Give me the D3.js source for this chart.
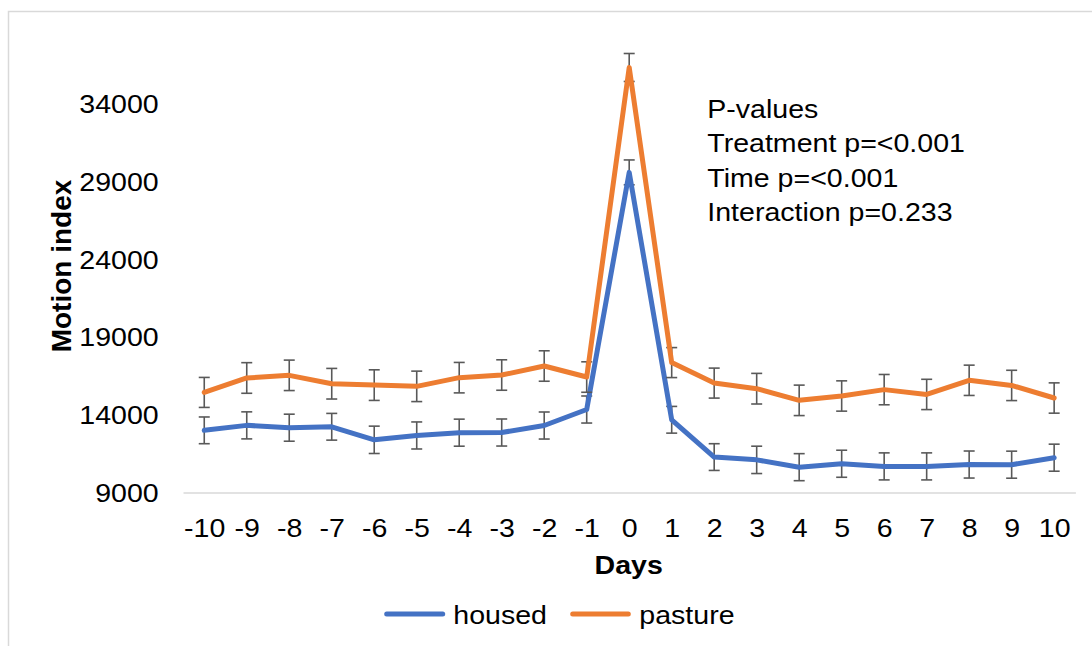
<!DOCTYPE html>
<html>
<head>
<meta charset="utf-8">
<script src="https://cdn.jsdelivr.net/npm/d3@7"></script>
<style>
  body { margin: 0; background: #fff; }
  svg { display: block; }
  text { font-family: "Liberation Sans", Arial, sans-serif; fill: #000; }
</style>
</head>
<body>
<svg id="chart" width="1092" height="646"></svg>
<script>
// Daily motion index around the event day (day 0), mean ± SE
const days = [-10, -9, -8, -7, -6, -5, -4, -3, -2, -1, 0, 1, 2, 3, 4, 5, 6, 7, 8, 9, 10];
const housed = [13000, 13320, 13170, 13230, 12390, 12670, 12850, 12860, 13310, 14340, 29600,
                13680, 11280, 11100, 10630, 10850, 10680, 10680, 10800, 10790, 11240];
const housedErr = [860, 870, 870, 860, 880, 870, 870, 870, 870, 870, 800,
                   860, 860, 880, 870, 870, 870, 870, 870, 870, 870];
const pasture = [15440, 16370, 16540, 16000, 15910, 15830, 16390, 16560, 17140, 16430, 36350,
                 17360, 16040, 15680, 14930, 15210, 15620, 15310, 16220, 15890, 15080];
const pastureErr = [965, 985, 980, 985, 985, 980, 980, 980, 980, 980, 900,
                    965, 965, 985, 980, 975, 975, 975, 975, 975, 975];
const seriesNames = ["housed", "pasture"];
const seriesColors = ["#4472C4", "#ED7D31"];
const yTicks = [9000, 14000, 19000, 24000, 29000, 34000];
const annotationLines = ["P-values", "Treatment p=<0.001", "Time p=<0.001", "Interaction p=0.233"];

const series = [
  { name: seriesNames[0], color: seriesColors[0], values: housed, err: housedErr },
  { name: seriesNames[1], color: seriesColors[1], values: pasture, err: pastureErr }
];

const svg = d3.select("#chart");
const SX = 1.12;            // horizontal text stretch
const FS = 25.5;            // base font size

// chart area frame
svg.append("rect")
  .attr("x", 8.5).attr("y", 11.5).attr("width", 1100).attr("height", 700)
  .attr("fill", "#fff").attr("stroke", "#d9d9d9").attr("stroke-width", 1.5);

const plot = { left: 183, right: 1075.4, top: 26.3, bottom: 492.5 };

const x = d3.scalePoint().domain(days).range([plot.left, plot.right]).padding(0.5);
const y = d3.scaleLinear().domain([9000, 39000]).range([plot.bottom, plot.top]);

// y axis (labels only)
const yAxis = svg.append("g")
  .attr("transform", `translate(${plot.left},0)`)
  .call(d3.axisLeft(y).tickValues(yTicks).tickSize(0).tickFormat(d3.format("d")));
yAxis.select(".domain").remove();
yAxis.selectAll("text")
  .attr("x", 0).attr("dy", "0.34em")
  .attr("transform", `translate(-24.3,0) scale(${SX},1)`)
  .attr("font-size", FS).attr("font-family", null).attr("fill", "#000");

// x axis with baseline
const xAxis = svg.append("g")
  .attr("transform", `translate(0,${plot.bottom})`)
  .call(d3.axisBottom(x).tickSize(0).tickSizeOuter(0));
xAxis.select(".domain").attr("stroke", "#d9d9d9").attr("stroke-width", 1.5);
xAxis.selectAll("text")
  .attr("y", 0).attr("dy", 0)
  .attr("transform", `translate(0,44) scale(${SX},1)`)
  .attr("font-size", FS).attr("font-family", null).attr("fill", "#000");

// error bars then lines for each series
const line = d3.line().x((d, i) => x(days[i])).y(d => y(d));
series.forEach(s => {
  const eb = svg.append("g").attr("stroke", "#595959").attr("stroke-width", 1.6).attr("fill", "none");
  s.values.forEach((v, i) => {
    const cx = x(days[i]);
    const y1 = y(v + s.err[i]), y2 = y(v - s.err[i]);
    eb.append("line").attr("x1", cx).attr("x2", cx).attr("y1", y1).attr("y2", y2);
    eb.append("line").attr("x1", cx - 5.5).attr("x2", cx + 5.5).attr("y1", y1).attr("y2", y1);
    eb.append("line").attr("x1", cx - 5.5).attr("x2", cx + 5.5).attr("y1", y2).attr("y2", y2);
  });
  svg.append("path")
    .datum(s.values)
    .attr("d", line)
    .attr("fill", "none")
    .attr("stroke", s.color)
    .attr("stroke-width", 5)
    .attr("stroke-linejoin", "round")
    .attr("stroke-linecap", "round");
});

// statistics annotation
const ann = svg.append("g");
annotationLines.forEach((t, i) => {
  ann.append("text")
    .attr("transform", `translate(707.3,${118.3 + i * 34.1}) scale(${SX},1)`)
    .attr("font-size", FS)
    .text(t);
});

// axis titles
svg.append("text")
  .attr("transform", "translate(71,266) rotate(-90)")
  .attr("text-anchor", "middle")
  .attr("font-size", 28)
  .attr("font-weight", "bold")
  .text("Motion index");

svg.append("text")
  .attr("transform", `translate(628.7,574.3) scale(${SX},1)`)
  .attr("text-anchor", "middle")
  .attr("font-size", FS)
  .attr("font-weight", "bold")
  .text("Days");

// legend
const legendPos = [{ x1: 386.7, x2: 442.7, tx: 453.3 }, { x1: 572.7, x2: 628.3, tx: 639.3 }];
series.forEach((s, i) => {
  const p = legendPos[i];
  svg.append("line")
    .attr("x1", p.x1).attr("x2", p.x2).attr("y1", 614).attr("y2", 614)
    .attr("stroke", s.color).attr("stroke-width", 5).attr("stroke-linecap", "round");
  svg.append("text")
    .attr("transform", `translate(${p.tx},624.3) scale(${SX},1)`)
    .attr("font-size", FS)
    .text(s.name);
});
</script>
</body>
</html>
